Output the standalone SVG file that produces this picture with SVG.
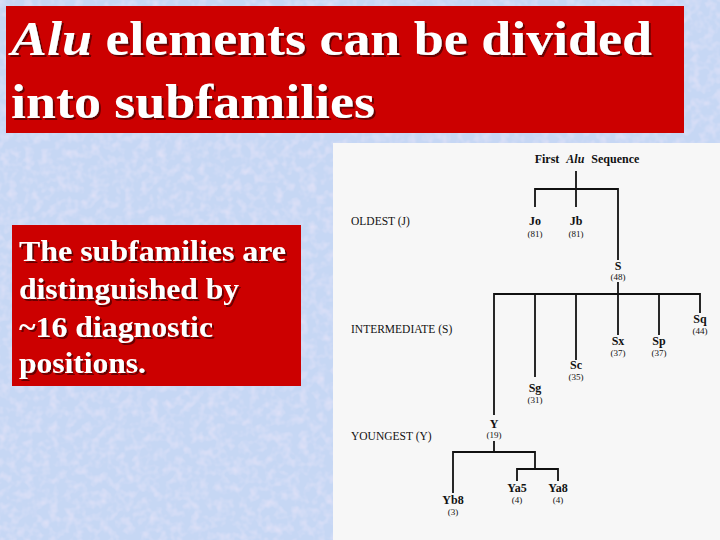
<svg xmlns="http://www.w3.org/2000/svg" width="720" height="540" viewBox="0 0 720 540">
  <defs>
    <filter id="noise" x="0" y="0" width="100%" height="100%">
      <feTurbulence type="fractalNoise" baseFrequency="0.12" numOctaves="2" seed="4" result="n"/>
      <feColorMatrix in="n" type="matrix" values="0 0 0 0 0.84  0 0 0 0 0.80  0 0 0 0 0.95  1.2 0 0 0 -0.5" result="pink"/>
      <feComposite in="pink" in2="SourceGraphic" operator="over"/>
    </filter>
    <filter id="shadow" x="-5%" y="-5%" width="110%" height="120%">
      <feOffset in="SourceAlpha" dx="2" dy="2" result="o"/>
      <feFlood flood-color="#6a0000"/>
      <feComposite in2="o" operator="in" result="s"/>
      <feMerge><feMergeNode in="s"/><feMergeNode in="SourceGraphic"/></feMerge>
    </filter>
  </defs>
  <style>
    .banner { fill: #cc0000; }
    .big { font-family: "Liberation Serif", "Times New Roman", serif; font-weight: bold; fill: #ffffff; }
    .lbl { font-family: "Liberation Serif", "Times New Roman", serif; font-size: 11.5px; fill: #111; }
    .node { font-family: "Liberation Serif", "Times New Roman", serif; font-weight: bold; font-size: 12px; fill: #111; text-anchor: middle; }
    .cnt { font-family: "Liberation Serif", "Times New Roman", serif; font-size: 9px; fill: #111; text-anchor: middle; }
    .edge { fill: none; stroke: #111; stroke-width: 1.8; }
  </style>

  <rect width="720" height="540" fill="#c6d7f4" filter="url(#noise)"/>

  <g id="title">
    <rect class="banner" x="6" y="6" width="678" height="127"/>
    <g class="big" font-size="48" filter="url(#shadow)">
      <text x="11" y="55" textLength="641" lengthAdjust="spacingAndGlyphs"><tspan font-style="italic">Alu</tspan> elements can be divided</text>
      <text x="11" y="118" textLength="364" lengthAdjust="spacingAndGlyphs">into subfamilies</text>
    </g>
  </g>

  <g id="note">
    <rect class="banner" x="12" y="225" width="289" height="161"/>
    <g class="big" font-size="29" filter="url(#shadow)">
      <text x="19" y="261" textLength="267" lengthAdjust="spacingAndGlyphs">The subfamilies are</text>
      <text x="19" y="299" textLength="220" lengthAdjust="spacingAndGlyphs">distinguished by</text>
      <text x="19" y="337" textLength="194" lengthAdjust="spacingAndGlyphs">~16 diagnostic</text>
      <text x="19" y="373" textLength="127" lengthAdjust="spacingAndGlyphs">positions.</text>
    </g>
  </g>

  <rect id="panel" x="333" y="143" width="387" height="397" fill="#f7f7f7"/>

  <g id="levels">
    <text class="lbl" x="351" y="225">OLDEST (J)</text>
    <text class="lbl" x="351" y="333">INTERMEDIATE (S)</text>
    <text class="lbl" x="351" y="440">YOUNGEST (Y)</text>
  </g>

  <g id="connectors">
    <path class="edge" d="M576 171 V207"/>
    <path class="edge" d="M535 207 V189 H618 V260"/>
    <path class="edge" d="M618 282 V294"/>
    <path class="edge" d="M494 415 V294 H700 V313"/>
    <path class="edge" d="M535 294 V377"/>
    <path class="edge" d="M576 294 V360"/>
    <path class="edge" d="M618 294 V335"/>
    <path class="edge" d="M659 294 V335"/>
    <path class="edge" d="M494 441 V452"/>
    <path class="edge" d="M453 493 V452 H535 V469"/>
    <path class="edge" d="M517 481 V469 H558 V481"/>
  </g>

  <g id="root"><text class="node" x="587" y="163" font-size="10.5" word-spacing="4">First <tspan font-style="italic">Alu</tspan> Sequence</text></g>
  <g id="Jo"><text class="node" x="535" y="225">Jo</text><text class="cnt" x="535" y="237">(81)</text></g>
  <g id="Jb"><text class="node" x="576" y="225">Jb</text><text class="cnt" x="576" y="237">(81)</text></g>
  <g id="S"><text class="node" x="618" y="270">S</text><text class="cnt" x="618" y="280">(48)</text></g>
  <g id="Sq"><text class="node" x="700" y="323">Sq</text><text class="cnt" x="700" y="334">(44)</text></g>
  <g id="Sx"><text class="node" x="618" y="345">Sx</text><text class="cnt" x="618" y="356">(37)</text></g>
  <g id="Sp"><text class="node" x="659" y="345">Sp</text><text class="cnt" x="659" y="356">(37)</text></g>
  <g id="Sc"><text class="node" x="576" y="369">Sc</text><text class="cnt" x="576" y="380">(35)</text></g>
  <g id="Sg"><text class="node" x="535" y="392">Sg</text><text class="cnt" x="535" y="403">(31)</text></g>
  <g id="Y"><text class="node" x="494" y="428">Y</text><text class="cnt" x="494" y="438">(19)</text></g>
  <g id="Yb8"><text class="node" x="453" y="504">Yb8</text><text class="cnt" x="453" y="515">(3)</text></g>
  <g id="Ya5"><text class="node" x="517" y="492">Ya5</text><text class="cnt" x="517" y="503">(4)</text></g>
  <g id="Ya8"><text class="node" x="558" y="492">Ya8</text><text class="cnt" x="558" y="503">(4)</text></g>
</svg>
